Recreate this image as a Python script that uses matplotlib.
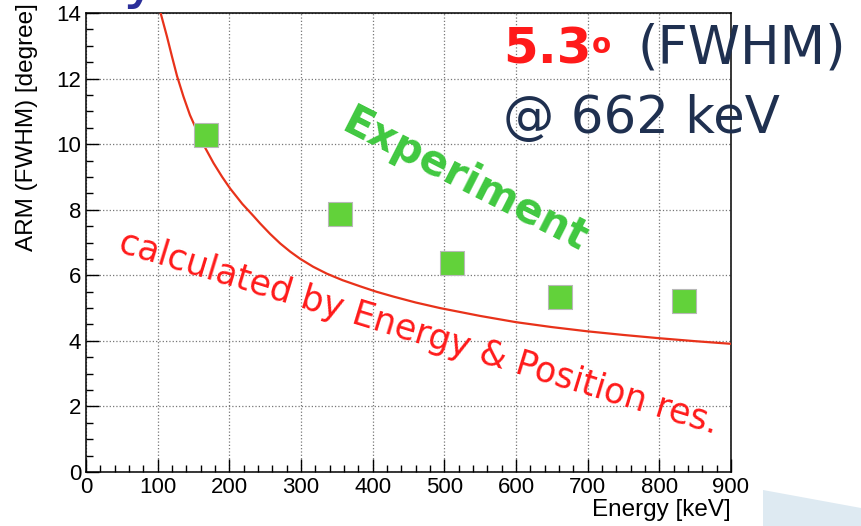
import numpy as np
import matplotlib
matplotlib.use("Agg")
import matplotlib.pyplot as plt
from matplotlib.patches import Polygon

# measured ARM (FWHM) points
exp_energy = [167, 355, 511, 662, 835]
exp_arm = [10.27, 7.87, 6.36, 5.34, 5.21]

# curve (calculated from energy & position resolution)
calc_energy = [103, 113, 120, 127, 136, 145, 155, 166, 178, 190, 201, 218, 234, 243,
               257, 271, 285, 299, 317, 336, 358, 383, 405, 429, 460, 494,
               550, 600, 650, 700, 750, 800, 850, 900]
calc_arm = [14.09, 13.28, 12.67, 12.08, 11.45, 10.89, 10.40, 9.90, 9.42, 9.00, 8.65, 8.18,
            7.80, 7.58, 7.26, 6.97, 6.72, 6.50, 6.26, 6.05, 5.85, 5.66, 5.50, 5.35,
            5.17, 5.00, 4.76, 4.57, 4.42, 4.29, 4.18, 4.08, 3.99, 3.91]

x_ticks = [0, 100, 200, 300, 400, 500, 600, 700, 800, 900]
y_ticks = [0, 2, 4, 6, 8, 10, 12, 14]

plt.rcParams['font.family'] = ['Liberation Sans', 'DejaVu Sans']

W, H = 861, 526
fig = plt.figure(figsize=(W / 100, H / 100), dpi=100)
ax = fig.add_axes([86 / W, 1 - 472 / H, (731 - 86) / W, (472 - 13) / H])

# slide decoration bottom right
fig.patches.append(Polygon([[763 / W, 1 - 490 / H], [1.0, 1 - 508 / H], [1.0, 0.0], [763 / W, 0.0]],
                           closed=True, transform=fig.transFigure, facecolor='#deeaf2',
                           edgecolor='none', zorder=0))
# cut-off slide title letter
fig.text(140 / W, 1.0 + 4 / H, 'y', color='#2b2f9a', fontsize=44, ha='center', va='baseline',
         family='DejaVu Sans')

ax.plot(calc_energy, calc_arm, color='#e8321a', lw=1.6, zorder=3)
ax.scatter(exp_energy, exp_arm, marker='s', s=320, color='#62d23a', edgecolor='#b8b8b8',
           linewidth=0.8, zorder=4)

ax.set_xlim(0, 900)
ax.set_ylim(0, 14)
ax.set_xticks(x_ticks)
ax.set_yticks(y_ticks)
ax.set_xticks(np.arange(0, 901, 20), minor=True)
ax.set_yticks(np.arange(0, 14.01, 0.5), minor=True)
ax.tick_params(which='both', direction='in', labelsize=16, top=False, right=False)
ax.tick_params(which='major', length=9.5, width=1)
ax.tick_params(which='minor', length=5, width=1)
ax.grid(which='major', linestyle=':', color='#777777', linewidth=0.9)
for s in ax.spines.values():
    s.set_linewidth(1.1)

fig.text(731 / W, 1 - 510 / H, 'Energy [keV]', ha='right', va='center', fontsize=17.5)
fig.text(27 / W, 1 - 3 / H, 'ARM (FWHM) [degree]', ha='center', va='top', rotation=90,
         fontsize=17.5)

# annotations
fig.text(503 / W, 1 - 63 / H, '5.3', color='#ff1a1a', fontsize=36, fontweight='bold',
         family='DejaVu Sans', va='baseline')
fig.text(592 / W, 1 - 53 / H, 'o', color='#ff1a1a', fontsize=20, fontweight='bold',
         family='DejaVu Sans', va='baseline')
fig.text(637 / W, 1 - 63 / H, '(FWHM)', color='#1f3050', fontsize=38,
         family='DejaVu Sans', va='baseline')
fig.text(503 / W, 1 - 133 / H, '@ 662 keV', color='#1f3050', fontsize=37,
         family='DejaVu Sans', va='baseline')
fig.text(465 / W, 1 - 180 / H, 'Experiment', color='#40c840', fontsize=30, fontweight='bold',
         family='DejaVu Sans', rotation=-27, ha='center', va='center', rotation_mode='anchor')
fig.text(419 / W, 1 - 333 / H, 'calculated by Energy & Position res.', color='#ff1a1a',
         fontsize=25, family='DejaVu Sans', rotation=-17, ha='center', va='center',
         rotation_mode='anchor')

fig.savefig('out.png', dpi=100)
